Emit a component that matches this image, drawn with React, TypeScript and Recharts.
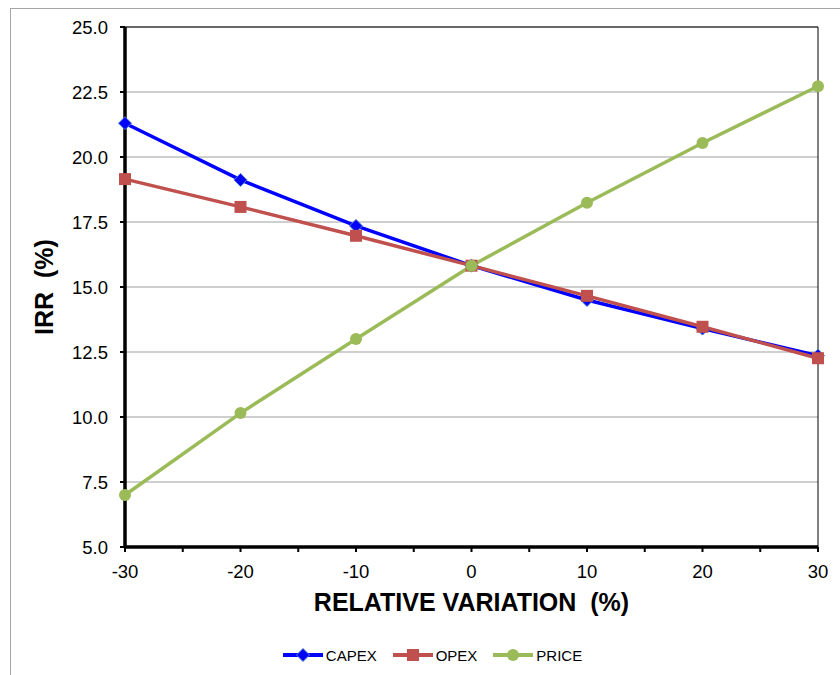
import React from 'react';
import {
  LineChart,
  Line,
  XAxis,
  YAxis,
  CartesianGrid,
  Legend,
  ReferenceLine
} from 'recharts';

const variation = [-30, -20, -10, 0, 10, 20, 30];
const capex = [21.3, 19.12, 17.35, 15.82, 14.5, 13.4, 12.36];
const opex = [19.15, 18.08, 16.97, 15.82, 14.66, 13.47, 12.26];
const price = [7.0, 10.15, 13.0, 15.82, 18.24, 20.54, 22.72];

const xTicks = [-30, -25, -20, -15, -10, -5, 0, 5, 10, 15, 20, 25, 30];
const yTicks = [5, 7.5, 10, 12.5, 15, 17.5, 20, 22.5, 25];

const data = variation.map((v, i) => ({
  x: v,
  capex: capex[i],
  opex: opex[i],
  price: price[i]
}));

const FONT = '"Liberation Sans", Arial, sans-serif';

const COLORS: Record<string, string> = {
  capex: '#0000FF',
  opex: '#C0504D',
  price: '#9BBB59'
};

// marker shapes shared by the dots and the legend icons
function marker(kind: string, cx: number, cy: number, key: string) {
  if (kind === 'capex') {
    return (
      <path
        key={key}
        d={`M${cx},${cy - 6.5}L${cx + 6.5},${cy}L${cx},${cy + 6.5}L${cx - 6.5},${cy}Z`}
        fill={COLORS.capex}
        stroke="#4F81BD"
        strokeWidth={1}
      />
    );
  }
  if (kind === 'opex') {
    return <rect key={key} x={cx - 6} y={cy - 6} width={12} height={12} fill={COLORS.opex} />;
  }
  return <circle key={key} cx={cx} cy={cy} r={6} fill={COLORS.price} />;
}

const dotFor = (kind: string) => (props: any) => {
  const { cx, cy, index } = props;
  if (cx == null || cy == null) return <g key={`${kind}-e-${index}`} />;
  return marker(kind, cx, cy, `${kind}-${index}`);
};

const renderLegend = (props: any) => {
  const { payload = [] } = props;
  return (
    <div
      style={{
        display: 'flex',
        justifyContent: 'center',
        alignItems: 'center',
        height: 40,
        paddingLeft: 25,
        fontFamily: FONT,
        fontSize: 15,
        color: '#000'
      }}
    >
      {payload.map((entry: any, i: number) => (
        <div
          key={`leg-${i}`}
          style={{ display: 'flex', alignItems: 'center', marginRight: i < payload.length - 1 ? 16 : 0 }}
        >
          <svg width={40} height={14}>
            <line x1={0} y1={7} x2={40} y2={7} stroke={entry.color} strokeWidth={4} />
            {marker(entry.dataKey, 20, 7, `lm-${i}`)}
          </svg>
          <span style={{ marginLeft: 3 }}>{entry.value}</span>
        </div>
      ))}
    </div>
  );
};

export default function App() {
  return (
    <div style={{ position: 'absolute', left: 0, top: 0, width: 840, height: 675 }}>
      {/* chart frame */}
      <div
        style={{
          position: 'absolute',
          left: 10,
          top: 8,
          width: 829,
          height: 666,
          borderTop: '1px solid #a6a6a6',
          borderLeft: '1px solid #a6a6a6'
        }}
      />
      <div style={{ position: 'absolute', left: 0, top: 0 }}>
        <LineChart width={840} height={675} data={data} margin={{ top: 27, right: 22, left: 0, bottom: 0 }}>
          <CartesianGrid vertical={false} stroke="#a0a0a0" strokeWidth={1.2} />
          <ReferenceLine y={25} stroke="#000" strokeWidth={1} />
          <ReferenceLine x={30} stroke="#000" strokeWidth={1} />
          <XAxis
            dataKey="x"
            type="number"
            domain={[-30, 30]}
            ticks={xTicks}
            interval={0}
            tickFormatter={(v: number) => (v % 10 === 0 ? String(v) : '')}
            height={88}
            axisLine={{ stroke: '#000', strokeWidth: 3.5 }}
            tickLine={{ stroke: '#000', strokeWidth: 2 }}
            tickSize={5}
            tickMargin={13}
            tick={{ fill: '#000', fontSize: 18.5, fontFamily: FONT }}
            label={{
              value: 'RELATIVE VARIATION\u00A0\u00A0(%)',
              position: 'insideBottom',
              offset: 24,
              style: { fill: '#000', fontSize: 25, fontWeight: 'bold', fontFamily: FONT }
            }}
          />
          <YAxis
            type="number"
            domain={[5, 25]}
            ticks={yTicks}
            interval={0}
            tickFormatter={(v: number) => v.toFixed(1)}
            width={125}
            axisLine={{ stroke: '#000', strokeWidth: 3.5 }}
            tickLine={{ stroke: '#000', strokeWidth: 2 }}
            tickSize={5}
            tickMargin={12}
            tick={{ fill: '#000', fontSize: 18.5, fontFamily: FONT }}
            label={{
              value: 'IRR\u00A0\u00A0(%)',
              angle: -90,
              position: 'insideLeft',
              offset: 44,
              style: { fill: '#000', fontSize: 25, fontWeight: 'bold', fontFamily: FONT, textAnchor: 'middle' }
            }}
          />
          <Legend
            content={renderLegend}
            verticalAlign="bottom"
            wrapperStyle={{ left: 0, bottom: 0, width: 840, height: 40 }}
          />
          <Line
            type="linear"
            dataKey="capex"
            name="CAPEX"
            stroke={COLORS.capex}
            strokeWidth={3.5}
            dot={dotFor('capex')}
            activeDot={false}
            isAnimationActive={false}
          />
          <Line
            type="linear"
            dataKey="opex"
            name="OPEX"
            stroke={COLORS.opex}
            strokeWidth={3.5}
            dot={dotFor('opex')}
            activeDot={false}
            isAnimationActive={false}
          />
          <Line
            type="linear"
            dataKey="price"
            name="PRICE"
            stroke={COLORS.price}
            strokeWidth={3.5}
            dot={dotFor('price')}
            activeDot={false}
            isAnimationActive={false}
          />
        </LineChart>
      </div>
    </div>
  );
}
